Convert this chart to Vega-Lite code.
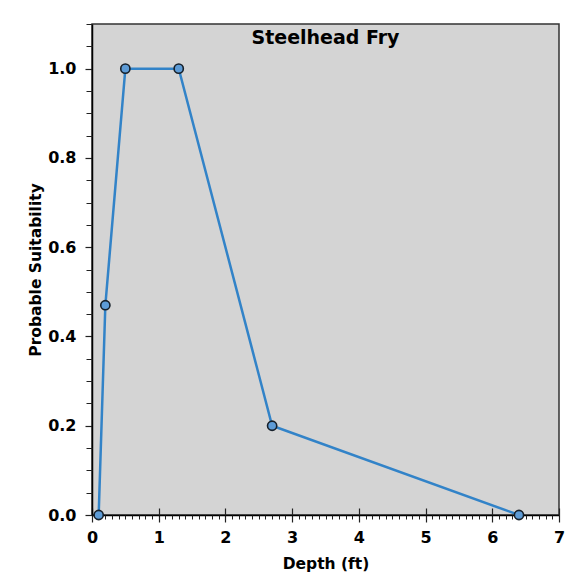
{
  "$schema": "https://vega.github.io/schema/vega-lite/v6.json",
  "width": 467,
  "height": 491,
  "autosize": {"type": "none"},
  "padding": {"left": 92, "top": 24, "right": 18, "bottom": 66},
  "background": "white",
  "title": {
    "text": "Steelhead Fry",
    "font": "DejaVu Sans",
    "fontWeight": "bold",
    "fontSize": 19,
    "color": "black",
    "anchor": "middle",
    "baseline": "alphabetic",
    "offset": -20,
    "dy": 19
  },
  "config": {
    "view": {"fill": "#d4d4d4", "stroke": "#333333", "strokeWidth": 1.5},
    "axis": {
      "labelFont": "DejaVu Sans",
      "labelFontWeight": "bold",
      "labelFontSize": 16,
      "labelColor": "black",
      "titleFont": "DejaVu Sans",
      "titleFontWeight": "bold",
      "titleFontSize": 15.5,
      "titleColor": "black",
      "tickColor": "#222222",
      "domainColor": "black",
      "domainWidth": 1.5,
      "grid": false
    }
  },
  "data": {
    "values": [
      {"depth": 0.1, "suit": 0},
      {"depth": 0.2, "suit": 0.47},
      {"depth": 0.5, "suit": 1.0},
      {"depth": 1.3, "suit": 1.0},
      {"depth": 2.7, "suit": 0.2},
      {"depth": 6.4, "suit": 0}
    ]
  },
  "resolve": {"axis": {"x": "independent", "y": "independent"}},
  "layer": [
    {
      "mark": {"type": "line", "color": "#3283c8", "strokeWidth": 2.5},
      "encoding": {
        "x": {
          "field": "depth", "type": "quantitative",
          "scale": {"domain": [0, 7], "nice": false},
          "axis": {"orient": "bottom", "values": [0, 1, 2, 3, 4, 5, 6, 7], "format": "d", "tickSize": 7, "tickWidth": 1.2, "labelPadding": 7, "title": "Depth (ft)", "titlePadding": 11, "labelFlush": false}
        },
        "y": {
          "field": "suit", "type": "quantitative",
          "scale": {"domain": [0, 1.1], "nice": false},
          "axis": {"orient": "left", "values": [0, 0.2, 0.4, 0.6, 0.8, 1.0], "format": ".1f", "tickSize": 7, "tickWidth": 1.2, "labelPadding": 9, "title": "Probable Suitability", "titlePadding": 4, "labelFlush": false}
        }
      }
    },
    {
      "mark": {"type": "point", "opacity": 0},
      "encoding": {
        "x": {
          "field": "depth", "type": "quantitative",
          "axis": {"orient": "bottom", "values": [0, 1, 2, 3, 4, 5, 6, 7], "tickSize": -7, "tickWidth": 1.2, "labels": false, "domain": false, "title": null}
        },
        "y": {"field": "suit", "type": "quantitative", "axis": null}
      }
    },
    {
      "mark": {"type": "point", "filled": true, "size": 85, "fill": "#5d9bd6", "stroke": "#16202a", "strokeWidth": 1.6, "opacity": 1},
      "encoding": {
        "x": {
          "field": "depth", "type": "quantitative",
          "axis": {"orient": "bottom", "values": [0.1,0.2,0.3,0.4,0.5,0.6,0.7,0.8,0.9,1.1,1.2,1.3,1.4,1.5,1.6,1.7,1.8,1.9,2.1,2.2,2.3,2.4,2.5,2.6,2.7,2.8,2.9,3.1,3.2,3.3,3.4,3.5,3.6,3.7,3.8,3.9,4.1,4.2,4.3,4.4,4.5,4.6,4.7,4.8,4.9,5.1,5.2,5.3,5.4,5.5,5.6,5.7,5.8,5.9,6.1,6.2,6.3,6.4,6.5,6.6,6.7,6.8,6.9], "tickSize": 4, "tickWidth": 1, "labels": false, "domain": false, "title": null}
        },
        "y": {
          "field": "suit", "type": "quantitative",
          "axis": {"orient": "left", "values": [0.05,0.1,0.15,0.25,0.3,0.35,0.45,0.5,0.55,0.65,0.7,0.75,0.85,0.9,0.95,1.05,1.1], "tickSize": 6, "tickWidth": 1, "labels": false, "domain": false, "title": null}
        }
      }
    }
  ]
}
